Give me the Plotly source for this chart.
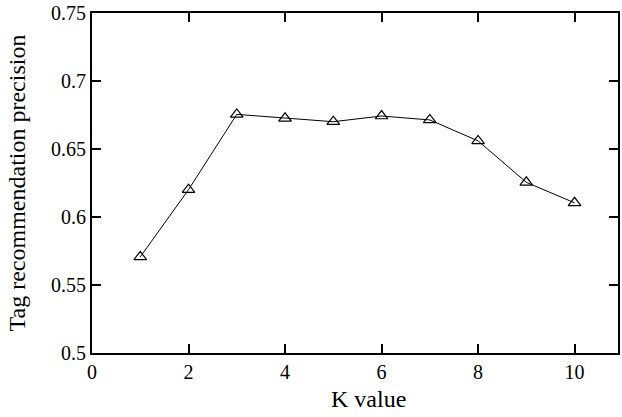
import plotly.graph_objects as go

k_values = [1, 2, 3, 4, 5, 6, 7, 8, 9, 10]
precision = [0.5707, 0.6202, 0.6756, 0.6727, 0.6702, 0.6744, 0.6715, 0.6561, 0.6256, 0.6105]
x_ticks = [0, 2, 4, 6, 8, 10]
y_ticks = [0.5, 0.55, 0.6, 0.65, 0.7, 0.75]
y_tick_labels = ["0.5", "0.55", "0.6", "0.65", "0.7", "0.75"]
x_title = "K value"
y_title = "Tag recommendation precision"

fig = go.Figure()
fig.add_trace(go.Scatter(
    x=k_values, y=precision, mode="lines+markers",
    line=dict(color="black", width=1),
    marker=dict(symbol="triangle-up-open", size=11, color="black", line=dict(width=1.2)),
    showlegend=False,
))

tick_font = dict(family="Liberation Serif", size=20, color="black")
title_font = dict(family="Liberation Serif", size=24, color="black")
fig.update_layout(
    width=622, height=417,
    margin=dict(l=92, r=2, t=13, b=64),
    paper_bgcolor="white", plot_bgcolor="white",
    font=tick_font,
)
fig.add_annotation(
    text=x_title, xref="paper", yref="paper", x=0.5265, y=-0.136,
    xanchor="center", yanchor="middle", showarrow=False, font=title_font,
)
fig.update_xaxes(
    range=[0, 10.9], tickvals=x_ticks, ticks="inside", ticklen=9, tickwidth=1.5, tickcolor="black",
    showline=True, linecolor="black", linewidth=2, mirror="ticks", showgrid=False, zeroline=False,
    tickfont=tick_font, ticklabeloverflow="allow",
)
fig.update_yaxes(
    range=[0.5, 0.7502], tickvals=y_ticks, ticktext=y_tick_labels, ticks="inside", ticklen=9, tickwidth=1.5,
    tickcolor="black", showline=True, linecolor="black", linewidth=2, mirror="ticks", showgrid=False,
    zeroline=False, tickfont=tick_font, ticklabeloverflow="allow",
    title=dict(text=y_title, font=title_font, standoff=19),
)
fig.write_html(
    "out.html",
    config={"displayModeBar": False},
    post_script="document.body.style.margin='0';document.body.style.overflow='hidden';",
)
